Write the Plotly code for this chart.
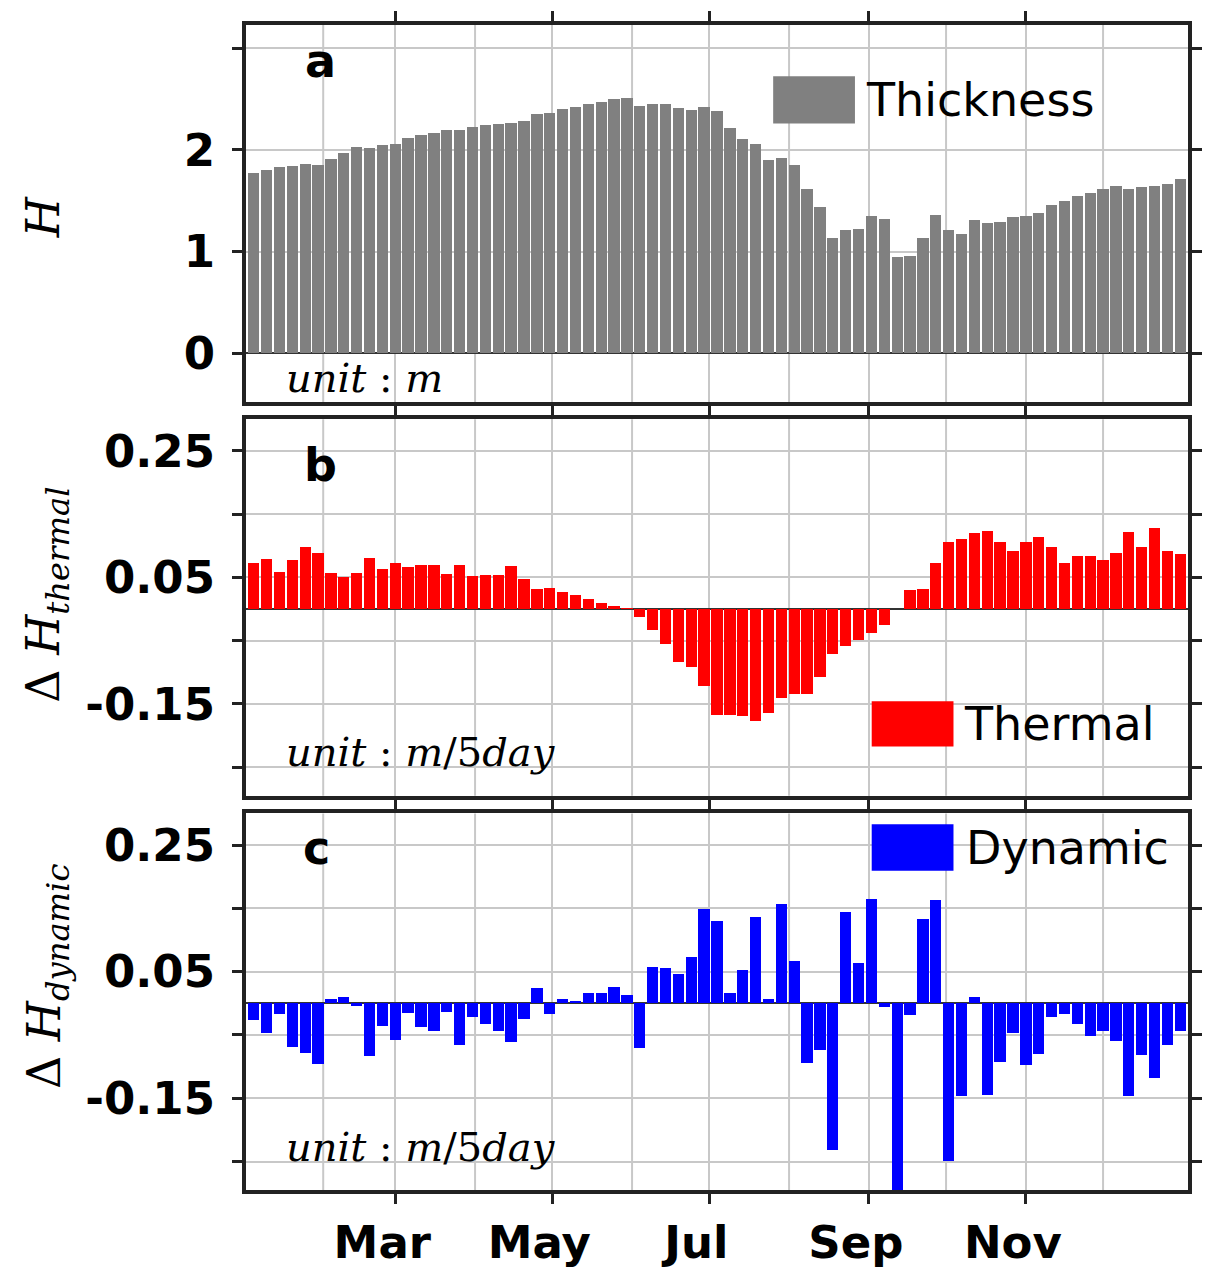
import plotly.graph_objects as go

thickness = [1.77,1.80,1.83,1.84,1.86,1.85,1.91,1.97,2.03,2.02,2.05,2.06,2.12,2.15,2.17,2.20,2.20,2.23,2.25,2.26,
             2.27,2.29,2.35,2.36,2.40,2.42,2.45,2.47,2.50,2.51,2.43,2.45,2.45,2.41,2.39,2.42,2.38,
             2.22,2.11,2.06,1.90,1.92,1.85,1.62,1.44,1.13,1.21,1.22,1.35,1.32,0.95,0.96,1.13,1.36,1.21,1.17,
             1.31,1.28,1.29,1.34,1.35,1.38,1.46,1.50,1.55,1.58,1.62,1.65,1.62,1.64,1.65,1.67,1.71]
thermal = [0.073,0.078,0.059,0.077,0.098,0.089,0.056,0.050,0.056,0.081,0.063,0.072,0.066,0.069,0.069,0.055,0.069,
           0.052,0.053,0.053,0.067,0.047,0.031,0.033,0.027,0.022,0.016,0.009,0.005,0.001,-0.0125,-0.033,-0.056,
           -0.084,-0.092,-0.122,-0.167,-0.167,-0.170,-0.177,-0.164,-0.141,-0.134,-0.134,-0.108,-0.072,-0.059,
           -0.050,-0.0375,-0.025,0.0,0.030,0.031,0.073,0.106,0.111,0.120,0.123,0.105,0.092,0.106,0.113,0.098,
           0.072,0.083,0.084,0.077,0.089,0.122,0.098,0.128,0.092,0.086]
dynamic = [-0.027,-0.048,-0.017,-0.069,-0.080,-0.097,0.006,0.009,-0.005,-0.084,-0.036,-0.058,-0.016,-0.0375,
           -0.045,-0.014,-0.067,-0.023,-0.033,-0.044,-0.0625,-0.025,0.023,-0.017,0.006,0.0016,0.016,0.016,0.025,
           0.0125,-0.072,0.056,0.055,0.045,0.072,0.148,0.130,0.016,0.052,0.136,0.006,0.156,0.066,-0.095,-0.075,
           -0.233,0.144,0.0625,0.164,-0.006,-0.32,-0.020,0.133,0.1625,-0.25,-0.148,0.009,-0.145,-0.094,-0.048,
           -0.098,-0.081,-0.023,-0.017,-0.034,-0.052,-0.044,-0.061,-0.147,-0.083,-0.119,-0.066,-0.045]
period_end_day = [5 * (i + 1) for i in range(len(thickness))]

month_labels = ["Mar", "May", "Jul", "Sep", "Nov"]
month_label_days = [60, 121, 182, 244, 305]
other_month_days = [32, 91, 152, 213, 274, 335]

FONT = "DejaVu Sans"
SERIF = "DejaVu Serif"
FRAME = "#222222"

W, H = 1213, 1280
L, R, T, B = 246, 11, 20, 78
def xp(px): return (px - L) / (W - L - R)
def yp(py): return (H - B - py) / (H - T - B)

fig = go.Figure()
fig.add_trace(go.Bar(x=period_end_day, y=thickness, marker_color="#808080", marker_line_width=0,
                     width=4.4, xaxis="x", yaxis="y"))
fig.add_trace(go.Bar(x=period_end_day, y=thermal, marker_color="#ff0000", marker_line_width=0,
                     width=4.4, xaxis="x2", yaxis="y2"))
fig.add_trace(go.Bar(x=period_end_day, y=dynamic, marker_color="#0000ff", marker_line_width=0,
                     width=4.4, xaxis="x3", yaxis="y3"))

xcommon = dict(range=[2, 368], tickvals=month_label_days, showgrid=True, gridcolor="#c8c8c8", gridwidth=2,
               showline=True, linewidth=4, linecolor=FRAME, mirror="ticks", ticks="outside",
               ticklen=10, tickwidth=3, tickcolor=FRAME, zeroline=False, ticklabelshift=-13,
               tickfont=dict(family=FONT, size=45, color="black"))
ycommon = dict(showgrid=True, gridcolor="#c8c8c8", gridwidth=2, showline=True, linewidth=4,
               linecolor=FRAME, mirror="ticks", ticks="outside", ticklen=10, tickwidth=3, tickcolor=FRAME,
               zeroline=True, zerolinecolor="#333333", zerolinewidth=2, ticklabelstandoff=8,
               tickfont=dict(family=FONT, size=45, color="black"))

small_vals = [-0.25, -0.15, -0.05, 0.05, 0.15, 0.25]
small_text = ["", "<b>-0.15</b>", "", "<b>0.05</b>", "", "<b>0.25</b>"]

fig.update_layout(
    width=W, height=H, margin=dict(l=L, r=R, t=T, b=B), showlegend=False,
    plot_bgcolor="white", paper_bgcolor="white", bargap=0,
    xaxis=dict(xcommon, domain=[0, 1], anchor="y", ticktext=[""] * 5),
    xaxis2=dict(xcommon, domain=[0, 1], anchor="y2", ticktext=[""] * 5),
    xaxis3=dict(xcommon, domain=[0, 1], anchor="y3", ticktext=["<b>%s</b>" % m for m in month_labels]),
    yaxis=dict(ycommon, domain=[yp(403), 1], anchor="x", range=[-0.485, 3.23],
               tickvals=[0, 1, 2, 3], ticktext=["<b>0</b>", "<b>1</b>", "<b>2</b>", ""]),
    yaxis2=dict(ycommon, domain=[yp(802), yp(420)], anchor="x2", range=[-0.295, 0.30],
                tickvals=small_vals, ticktext=small_text),
    yaxis3=dict(ycommon, domain=[0, yp(820)], anchor="x3", range=[-0.295, 0.30],
                tickvals=small_vals, ticktext=small_text),
)

shapes = []
for xr, yr in [("x", "y"), ("x2", "y2"), ("x3", "y3")]:
    for d in other_month_days:
        shapes.append(dict(type="line", xref=xr, yref=yr + " domain", x0=d, x1=d, y0=0, y1=1,
                           line=dict(color="#c8c8c8", width=2), layer="below"))
legend_boxes = [(781, 864, 72, 120, "#808080"), (881, 964, 706, 752, "#ff0000"), (881, 964, 831, 878, "#0000ff")]
for x0, x1, y0, y1, c in legend_boxes:
    shapes.append(dict(type="rect", xref="paper", yref="paper", x0=xp(x0), x1=xp(x1), y0=yp(y1), y1=yp(y0),
                       fillcolor=c, line_width=0))
fig.update_layout(shapes=shapes)

annos = [
    (873, 96, "Thickness", FONT, 46, "left", 0),
    (973, 729, "Thermal", FONT, 46, "left", 0),
    (975, 855, "Dynamic", FONT, 46, "left", 0),
    (322, 57, "<b>a</b>", FONT, 46, "center", 0),
    (322, 466, "<b>b</b>", FONT, 46, "center", 0),
    (318, 855, "<b>c</b>", FONT, 46, "center", 0),
    (285, 378, "<i>unit</i> : <i>m</i>", SERIF, 40, "left", 0),
    (285, 758, "<i>unit</i> : <i>m</i>/5<i>day</i>", SERIF, 40, "left", 0),
    (285, 1158, "<i>unit</i> : <i>m</i>/5<i>day</i>", SERIF, 40, "left", 0),
    (40, 215, "<i>H</i>", SERIF, 46, "center", -90),
    (44, 598, "Δ <i>H<sub>thermal</sub></i>", SERIF, 46, "center", -90),
    (44, 985, "Δ <i>H<sub>dynamic</sub></i>", SERIF, 46, "center", -90),
]
for px, py, text, fam, size, anc, ang in annos:
    fig.add_annotation(xref="paper", yref="paper", x=xp(px), y=yp(py), text=text, showarrow=False,
                       xanchor=anc, yanchor="middle", textangle=ang,
                       font=dict(family=fam, size=size, color="black"))

fig.write_html("out.html", config={"responsive": False, "displayModeBar": False},
               post_script="document.documentElement.style.overflow='hidden';"
                           "document.body.style.margin='0';document.body.style.overflow='hidden';"
                           "var g=document.getElementById('{plot_id}');g.style.display='block';"
                           "g.parentNode.style.height='1280px';g.parentNode.style.overflow='hidden';")
